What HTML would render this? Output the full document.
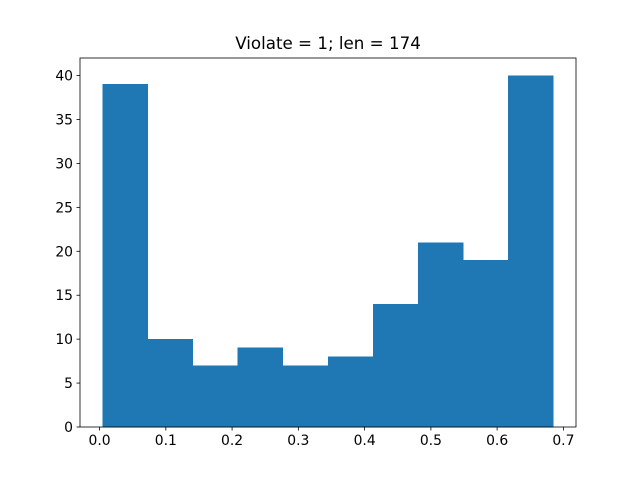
<!DOCTYPE html>
<html><head><meta charset="utf-8"><style>
body{margin:0;background:#fff;}
svg text{font-family:"DejaVu Sans","Liberation Sans",sans-serif;font-size:13.9px;fill:#000;}
</style></head><body>
<svg id="chart" width="640" height="480" xmlns="http://www.w3.org/2000/svg">
<rect width="640" height="480" fill="#fff"/>
<text x="328" y="49" text-anchor="middle" style="font-size:16.7px">Violate = 1; len = 174</text>
<g id="bars"></g>
<g id="axes"></g>
</svg>
<script>
const counts = [39, 10, 7, 9, 7, 8, 14, 21, 19, 40];
const binStart = 0.0045;
const binEnd = 0.685;
const xTicks = [0.0, 0.1, 0.2, 0.3, 0.4, 0.5, 0.6, 0.7];
const yTicks = [0, 5, 10, 15, 20, 25, 30, 35, 40];

const L = 80, R = 576, T = 58, B = 427;
const span = binEnd - binStart;
const xMin = binStart - span * 0.05, xMax = binEnd + span * 0.05;
const yMax = Math.max(...counts) * 1.05;
const xs = v => L + (v - xMin) / (xMax - xMin) * (R - L);
const ys = v => B - v / yMax * (B - T);
const NS = "http://www.w3.org/2000/svg";
function mk(tag, attrs, parent) {
  const e = document.createElementNS(NS, tag);
  for (const k in attrs) e.setAttribute(k, attrs[k]);
  parent.appendChild(e);
  return e;
}
const bars = document.getElementById('bars');
const axes = document.getElementById('axes');
const w = span / counts.length;
counts.forEach((c, i) => {
  const x0 = xs(binStart + i * w), x1 = xs(binStart + (i + 1) * w);
  const r = mk('rect', {x: x0, y: ys(c), width: x1 - x0, height: ys(0) - ys(c), fill: '#1f77b4', stroke: '#1f77b4', 'stroke-width': 0.5, 'shape-rendering': 'crispEdges'}, bars);
  
  
});
const frame = mk('rect', {x: L, y: T, width: R - L, height: B - T, fill: 'none', stroke: '#000', 'stroke-width': 0.8}, axes);


xTicks.forEach(t => {
  const x = xs(t);
  mk('line', {x1: x, x2: x, y1: B, y2: B + 3.5, stroke: '#000', 'stroke-width': 0.8}, axes);
  const tx = mk('text', {x: x, y: B + 18, 'text-anchor': 'middle'}, axes);
  tx.textContent = t.toFixed(1);
  
  
});
yTicks.forEach(t => {
  const y = ys(t);
  mk('line', {x1: L - 3.5, x2: L, y1: y, y2: y, stroke: '#000', 'stroke-width': 0.8}, axes);
  const tx = mk('text', {x: L - 7, y: y + 5, 'text-anchor': 'end'}, axes);
  tx.textContent = t;
  
  
});
</script>
</body></html>
